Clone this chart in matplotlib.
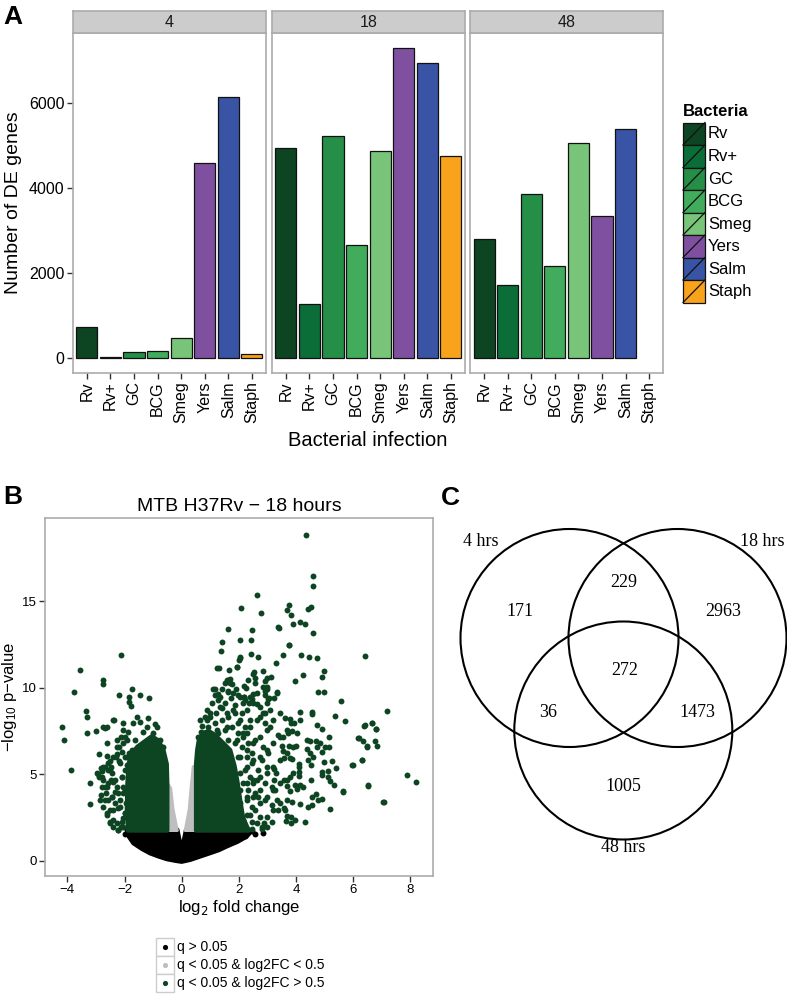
import matplotlib
matplotlib.use('Agg')
import matplotlib.pyplot as plt
from matplotlib.patches import Rectangle, Circle, Polygon
from matplotlib.lines import Line2D

plt.rcParams['font.family'] = ['Liberation Sans', 'DejaVu Sans']
plt.rcParams['axes.unicode_minus'] = True

# ---------------- data ----------------
bacteria = ['Rv', 'Rv+', 'GC', 'BCG', 'Smeg', 'Yers', 'Salm', 'Staph']
bact_colors = ['#0d4422', '#0b6d38', '#258e47', '#40ac5c', '#78c478',
               '#8050a0', '#3a54a5', '#f8a31b']
timepoints = ['4', '18', '48']
de_4h = [712, 10, 126, 145, 469, 4594, 6134, 87]
de_18h = [4931, 1259, 5220, 2641, 4875, 7289, 6938, 4751]
de_48h = [2789, 1704, 3860, 2149, 5048, 3345, 5377, None]
de_counts = [de_4h, de_18h, de_48h]
y_ticks_a = [0, 2000, 4000, 6000]

# volcano: dense regions (outlines) + scattered points (x, y)
black_region = [(-1.93, 1.8), (-1.85, 1.4), (-1.69, 1.02), (-1.4, 0.7), (-1.11, 0.44),
                (-0.8, 0.25), (-0.52, 0.1), (-0.2, 0.0), (0.0, -0.05), (0.3, 0.06),
                (0.64, 0.25), (1.0, 0.45), (1.3, 0.62), (1.57, 0.83), (1.95, 1.1),
                (2.27, 1.40), (2.38, 1.6), (2.35, 1.8), (0.15, 1.8), (0.0, 0.6),
                (-0.15, 1.8)]
black_points = [(2.83, 1.60), (2.55, 1.55), (2.45, 1.70), (-1.98, 1.55), (2.2, 1.45)]
grey_left_region = [(-0.52, 1.75), (-0.52, 4.2), (-0.46, 4.4), (-0.38, 4.2),
                    (-0.30, 3.0), (-0.15, 1.75)]
grey_right_region = [(0.12, 1.75), (0.50, 1.75), (0.50, 5.45), (0.40, 5.45),
                     (0.33, 4.3), (0.26, 3.0)]
green_left_region = [(-1.88, 1.75), (-1.92, 3.0), (-1.90, 4.5), (-1.86, 5.6),
                     (-1.75, 6.2), (-1.55, 6.6), (-1.3, 6.9), (-1.05, 7.2),
                     (-0.85, 7.0), (-0.65, 6.5), (-0.52, 5.6), (-0.50, 4.4),
                     (-0.50, 1.75)]
green_right_region = [(0.50, 1.75), (0.50, 5.6), (0.54, 6.4), (0.6, 7.0),
                      (0.75, 7.4), (0.95, 7.5), (1.15, 7.3), (1.4, 6.9),
                      (1.7, 6.4), (1.85, 5.5), (1.95, 4.6), (2.05, 3.5),
                      (2.15, 2.5), (2.35, 1.75)]
green_points_top = [
    (4.34, 18.84), (4.61, 16.45), (4.61, 15.90), (2.64, 15.36), (2.07, 14.63),
    (2.76, 14.34), (3.74, 14.76), (3.68, 14.46), (3.81, 14.20), (4.41, 14.55),
    (4.53, 14.65), (3.88, 13.69), (4.14, 13.80), (4.30, 13.67), (1.61, 13.38),
    (2.46, 13.36), (3.39, 13.44), (4.59, 13.13), (1.42, 12.61), (2.04, 12.73),
    (2.43, 12.75), (3.75, 12.46), (1.38, 12.13), (2.42, 11.94), (2.68, 11.78),
    (2.00, 11.59), (2.04, 11.75), (3.55, 11.86), (4.17, 11.86), (4.46, 11.76),
    (4.72, 11.72), (6.42, 11.82), (3.29, 11.44), (1.22, 11.13), (1.29, 11.13),
    (1.92, 11.19), (1.65, 11.00), (2.54, 10.92), (2.83, 10.96), (4.99, 10.96),
    (2.56, 10.57), (2.98, 10.54), (3.12, 10.61), (4.25, 10.73), (4.90, 10.63),
    (1.58, 10.44), (1.70, 10.50), (1.51, 10.25), (1.77, 10.20), (2.56, 10.30),
    (2.92, 10.38), (3.96, 10.38), (2.17, 10.09), (2.25, 9.98), (1.15, 9.94),
    (1.41, 9.92), (1.90, 9.90), (2.83, 10.05), (3.00, 9.90), (1.26, 9.65),
    (1.63, 9.83), (2.19, 9.46), (2.47, 9.32), (2.90, 9.56), (3.23, 9.42),
    (3.32, 9.71), (4.76, 9.73), (4.98, 9.77), (5.56, 9.23), (3.02, 9.32),
    (3.38, 13.51), (3.75, 12.46)]
green_points_right = [
    (7.18, 8.63), (5.70, 8.09), (5.37, 8.34), (6.41, 7.83), (6.65, 7.96), (6.78, 7.60),
    (6.19, 7.11), (6.33, 6.94), (6.48, 6.59), (6.76, 6.90), (6.82, 6.63), (6.30, 5.82),
    (5.95, 5.52), (7.89, 4.94), (8.21, 4.57), (6.51, 4.34), (7.07, 3.42), (5.63, 4.02),
    (5.20, 3.00), (4.91, 3.56), (4.70, 3.85), (4.55, 3.71), (4.76, 3.52), (4.42, 3.10),
    (4.55, 3.21), (4.30, 2.25), (3.81, 2.21), (3.65, 2.31), (3.70, 2.61), (4.13, 3.29),
    (3.86, 3.42), (3.59, 3.04), (3.79, 4.04), (4.02, 4.15), (4.14, 4.36), (4.51, 4.65),
    (4.92, 4.96), (5.11, 4.83), (5.34, 4.38), (5.20, 4.63), (4.90, 5.12), (5.13, 5.19),
    (5.38, 5.38), (5.26, 5.78), (4.97, 5.71), (4.53, 5.52), (4.42, 5.82), (4.60, 6.02),
    (4.49, 6.21), (4.90, 6.27), (5.15, 6.56), (5.02, 6.58), (4.72, 6.59), (4.37, 6.44),
    (4.40, 6.98), (4.49, 6.92), (4.71, 6.92), (4.85, 6.79), (5.16, 7.17), (4.91, 7.61),
    (4.74, 7.86), (4.55, 8.59), (4.55, 8.48), (4.15, 8.59), (4.14, 8.15), (3.94, 7.94),
    (3.78, 8.19), (3.63, 8.27), (3.85, 7.52), (3.73, 7.36), (3.56, 7.17), (3.36, 7.25),
    (3.51, 6.65), (3.75, 6.63), (4.01, 6.65), (3.53, 6.33), (3.59, 5.92), (3.80, 5.96),
    (3.87, 5.90), (4.10, 5.58), (4.12, 5.40), (4.10, 5.15), (4.10, 4.90), (3.79, 4.86),
    (3.57, 4.67), (3.68, 4.34), (3.98, 4.40), (4.25, 4.25), (3.23, 5.31), (3.31, 5.06),
    (3.22, 4.67), (3.15, 4.29), (3.26, 4.09), (3.32, 3.52), (3.15, 3.23), (3.38, 2.94),
    (3.17, 2.27), (2.98, 1.98), (2.80, 1.96), (2.87, 2.17), (6.37, 7.79), (6.66, 7.94),
    (6.79, 7.59), (6.47, 6.63), (6.18, 7.07), (6.29, 5.82), (5.98, 5.54), (5.65, 4.00),
    (6.52, 4.38), (7.05, 3.42)]
green_points_mid = [
    (2.90, 9.80), (3.05, 9.38), (3.33, 9.73), (2.48, 9.63), (2.62, 9.05), (2.35, 9.09),
    (2.18, 9.48), (1.72, 9.42), (1.51, 9.09), (1.40, 8.81), (1.19, 8.55), (0.99, 8.32),
    (0.87, 8.13), (0.70, 7.79), (0.67, 7.42), (0.58, 7.17), (2.91, 7.94), (3.09, 7.75),
    (2.74, 8.32), (2.56, 6.98), (2.86, 6.59), (3.03, 6.21), (2.80, 5.82), (2.68, 5.25),
    (2.97, 5.44), (2.62, 4.67), (2.91, 4.48), (2.68, 3.71), (2.91, 3.52), (2.56, 2.94),
    (2.74, 2.56), (2.45, 2.27), (2.33, 4.09), (2.45, 6.21), (2.27, 7.36), (1.98, 7.94),
    (2.10, 8.52), (1.11, 9.90), (1.16, 9.57), (1.34, 9.48), (1.63, 10.44), (1.69, 10.25),
    (1.80, 9.67), (1.92, 11.20), (2.04, 11.69), (2.33, 10.44), (2.50, 10.82), (2.97, 10.05),
    (1.34, 8.90), (1.57, 8.52), (1.80, 8.71), (2.04, 9.48), (2.21, 9.28), (2.39, 9.48),
    (2.62, 9.67), (2.74, 8.90), (2.91, 8.52), (3.09, 8.71), (0.64, 8.13), (0.81, 8.32),
    (0.99, 8.52), (0.87, 7.36), (1.22, 7.55), (1.57, 7.75), (0.93, 7.75), (1.16, 7.94),
    (1.40, 8.13), (1.63, 8.32), (1.86, 8.52), (1.28, 7.36), (1.51, 7.55), (1.75, 7.75),
    (1.98, 7.36), (2.21, 7.75), (2.39, 8.13), (1.63, 6.98), (1.86, 6.79), (2.10, 6.59),
    (2.33, 6.79), (2.15, 7.17), (1.10, 6.79), (1.34, 6.59), (1.63, 6.21), (1.98, 6.02),
    (2.27, 6.02), (2.45, 5.63), (2.21, 5.25), (2.39, 4.86), (2.15, 4.48), (2.27, 3.52),
    (2.45, 3.13), (2.27, 2.65), (2.10, 2.36), (2.56, 3.90), (2.74, 4.09), (2.50, 4.48),
    (0.87, 8.71), (1.05, 9.09), (1.28, 9.28), (1.86, 9.00), (1.98, 9.57), (1.63, 9.76),
    (2.04, 1.98), (2.27, 1.85), (2.45, 1.85), (2.80, 1.85), (2.15, 2.37), (2.39, 2.65),
    (2.62, 2.17), (2.97, 2.56), (3.20, 2.94), (3.44, 3.33), (3.67, 3.52), (3.84, 2.56),
    (3.96, 2.37), (3.61, 2.94), (2.04, 3.33), (2.27, 3.71), (2.50, 3.71), (2.74, 3.33),
    (2.97, 3.71), (3.20, 4.09), (3.44, 4.48), (3.67, 4.67), (3.90, 5.06), (2.04, 4.09),
    (2.27, 4.48), (2.50, 4.67), (2.74, 4.86), (2.97, 5.06), (3.20, 5.44), (3.44, 5.83),
    (3.67, 6.21), (3.90, 6.59), (4.02, 7.36), (2.04, 5.06), (2.27, 5.44), (2.50, 5.83),
    (2.74, 6.02), (2.97, 6.40), (3.20, 6.79), (3.44, 7.17), (3.67, 7.56), (3.84, 7.94),
    (2.04, 6.02), (2.27, 6.40), (2.50, 6.79), (2.74, 7.17), (2.97, 7.56), (3.20, 8.13),
    (3.44, 8.52), (1.92, 6.98), (2.15, 7.36), (2.39, 7.75), (2.62, 8.13), (2.86, 8.52),
    (2.97, 9.09), (2.04, 8.13), (2.27, 8.71), (2.50, 9.09), (2.15, 9.09)]
green_points_left = [
    (-4.17, 7.75), (-4.13, 6.96), (-3.88, 5.25), (-3.78, 9.75), (-3.57, 11.00),
    (-3.36, 8.63), (-3.30, 8.29), (-3.31, 7.36), (-3.00, 7.48), (-3.21, 4.48),
    (-2.90, 6.19), (-2.74, 10.42), (-2.74, 10.19), (-2.68, 7.65), (-2.62, 7.71),
    (-2.36, 8.13), (-2.18, 9.59), (-2.11, 11.90), (-1.84, 9.49), (-1.83, 9.20),
    (-1.76, 8.94), (-1.73, 9.90), (-1.46, 9.57), (-1.13, 9.42),
    (-2.89, 4.84), (-2.62, 6.06), (-2.52, 5.77), (-2.48, 5.44), (-2.25, 6.17),
    (-2.20, 5.78), (-2.27, 6.59), (-2.11, 7.17), (-2.79, 5.21), (-2.77, 4.86),
    (-2.92, 5.02), (-2.83, 3.81), (-2.62, 4.29), (-2.48, 4.67), (-2.27, 4.29),
    (-2.57, 3.52), (-2.51, 2.94), (-2.41, 2.36), (-2.24, 1.79), (-2.11, 1.98),
    (-2.04, 2.46), (-3.20, 3.27),
    (-2.97, 5.06), (-2.82, 5.34), (-2.74, 4.67), (-2.68, 4.29), (-2.65, 3.90),
    (-2.57, 5.25), (-2.45, 5.06), (-2.39, 4.57), (-2.33, 4.00), (-2.45, 3.71),
    (-2.33, 3.33), (-2.22, 3.04), (-2.16, 3.52), (-2.04, 3.90), (-2.06, 4.29),
    (-2.10, 4.86), (-1.98, 5.25), (-1.92, 5.54), (-1.98, 6.02), (-2.10, 6.31),
    (-2.18, 6.59), (-2.04, 6.79), (-1.90, 6.98), (-2.30, 6.02), (-2.41, 6.02),
    (-2.57, 5.63), (-2.68, 5.44), (-2.86, 3.52), (-2.74, 3.13), (-2.62, 2.65),
    (-2.51, 2.27), (-2.39, 1.98), (-2.22, 1.79), (-2.10, 2.27), (-1.98, 2.75),
    (-1.95, 3.33),
    (-2.04, 7.55), (-1.87, 7.46), (-1.69, 7.94), (-1.57, 8.32), (-1.46, 8.03),
    (-1.22, 7.75), (-0.93, 7.90), (-0.85, 7.75), (-1.17, 8.23), (-0.64, 6.59),
    (-0.76, 6.98), (-0.99, 7.36), (-1.34, 7.46), (-1.63, 6.98), (-1.75, 6.40),
    (-1.83, 6.21),
    (-2.74, 7.75), (-2.39, 8.13), (-2.04, 7.94), (-2.62, 6.79), (-2.27, 6.98),
    (-1.98, 7.17), (-2.74, 5.44), (-2.51, 5.25), (-2.16, 5.63), (-1.92, 6.02),
    (-2.80, 4.29), (-2.57, 4.48), (-2.33, 4.67), (-2.10, 4.86), (-2.68, 3.52),
    (-2.45, 3.71), (-2.22, 3.90), (-1.98, 4.09), (-2.62, 2.75), (-2.39, 2.94),
    (-2.16, 3.13), (-1.98, 2.75), (-2.27, 2.17), (-2.04, 1.98), (-2.51, 2.17)]
volcano_labels = ['q > 0.05', 'q < 0.05 & log2FC < 0.5', 'q < 0.05 & log2FC > 0.5']
volcano_colors = ['#000000', '#bebebe', '#0d4422']

# Venn counts
venn_sets = ['4 hrs', '18 hrs', '48 hrs']
venn_only4, venn_only18, venn_only48 = 171, 2963, 1005
venn_4_18, venn_4_48, venn_18_48, venn_all = 229, 36, 1473, 272

# ---------------- figure ----------------
W, H = 787, 998
fig = plt.figure(figsize=(W / 100, H / 100), dpi=100)


def ax_px(x0, y0, x1, y1, **kw):
    return fig.add_axes([x0 / W, 1 - y1 / H, (x1 - x0) / W, (y1 - y0) / H], **kw)


BORDER = '#ababab'

# ----- Panel A -----
facet_x = [(72.7, 266.0), (271.7, 465.0), (470.0, 663.3)]
for k, (x0, x1) in enumerate(facet_x):
    ax = ax_px(x0, 32.7, x1, 373)
    vals = de_counts[k]
    for i, v in enumerate(vals):
        if v is None:
            continue
        ax.bar(i, v, width=0.9, color=bact_colors[i], edgecolor='#111111', linewidth=0.9)
    ax.set_xlim(-0.6, len(bacteria) - 0.4)
    ax.set_ylim(-364, 7653)
    ax.set_xticks(range(len(bacteria)))
    ax.set_xticklabels(bacteria, rotation=90, fontsize=11.5)
    ax.set_yticks(y_ticks_a)
    if k == 0:
        ax.set_yticklabels([str(t) for t in y_ticks_a], fontsize=11.5)
    else:
        ax.tick_params(axis='y', left=False, labelleft=False)
    ax.tick_params(axis='both', color='#333333', length=4, width=1, pad=2)
    for s in ax.spines.values():
        s.set_color(BORDER)
        s.set_linewidth(1.2)
    st = ax_px(x0, 11, x1, 32.7)
    st.set_facecolor('#cccccc')
    st.set_xticks([]); st.set_yticks([])
    for s in st.spines.values():
        s.set_color(BORDER)
        s.set_linewidth(1.2)
    st.text(0.5, 0.45, timepoints[k], ha='center', va='center', fontsize=11.5,
            transform=st.transAxes, color='#1a1a1a')

fig.text(14 / W, 1 - 203 / H, 'Number of DE genes', rotation=90, ha='center',
         va='center', fontsize=14)
fig.text(368 / W, 1 - 440 / H, 'Bacterial infection', ha='center', va='center',
         fontsize=14.5)

lax = ax_px(670, 95, 787, 320)
lax.set_xlim(670, 787); lax.set_ylim(320, 95); lax.axis('off')
lax.text(683, 111, 'Bacteria', fontsize=12, fontweight='bold', va='center', ha='left')
for i, (b, c) in enumerate(zip(bacteria, bact_colors)):
    y0 = 122.5 + i * 22.5
    lax.add_patch(Rectangle((683, y0), 22, 22.5, facecolor=c, edgecolor='#111111',
                            linewidth=0.9))
    lax.add_line(Line2D([683, 705], [y0 + 22.5, y0], color='#111111', linewidth=0.9))
    lax.text(708, y0 + 11.5, b, fontsize=12, va='center', ha='left')

# ----- Panel B -----
axb = ax_px(45.3, 518.3, 433.3, 876)
axb.add_patch(Polygon(black_region, closed=True, facecolor=volcano_colors[0],
                      edgecolor=volcano_colors[0], linewidth=3, joinstyle='round'))
axb.scatter([p[0] for p in black_points], [p[1] for p in black_points], s=18,
            color=volcano_colors[0], linewidths=0)
for reg in (grey_left_region, grey_right_region):
    axb.add_patch(Polygon(reg, closed=True, facecolor=volcano_colors[1],
                          edgecolor=volcano_colors[1], linewidth=2.0, joinstyle='round'))
for reg in (green_left_region, green_right_region):
    axb.add_patch(Polygon(reg, closed=True, facecolor=volcano_colors[2],
                          edgecolor=volcano_colors[2], linewidth=3, joinstyle='round'))
for pts in (green_points_top, green_points_right, green_points_mid, green_points_left):
    axb.scatter([p[0] for p in pts], [p[1] for p in pts], s=18,
                color=volcano_colors[2], linewidths=0)
axb.set_xlim(-4.77, 8.80)
axb.set_ylim(-0.87, 19.78)
axb.set_xticks([-4, -2, 0, 2, 4, 6, 8])
axb.set_yticks([0, 5, 10, 15])
axb.tick_params(axis='both', labelsize=9.5, color='#333333', length=4, width=1, pad=2)
for s in axb.spines.values():
    s.set_color(BORDER)
    s.set_linewidth(1.2)
axb.set_title('MTB H37Rv \u2212 18 hours', fontsize=14, pad=5)
axb.set_xlabel(r'log$_2$ fold change', fontsize=12, labelpad=1)
axb.set_ylabel('$\\mathregular{-log_{10}}$ p\u2212value', fontsize=12, labelpad=2)

lb = ax_px(150, 930, 400, 998)
lb.set_xlim(150, 400); lb.set_ylim(998, 930); lb.axis('off')
for i, (lab, c) in enumerate(zip(volcano_labels, volcano_colors)):
    y0 = 938 + i * 18
    lb.add_patch(Rectangle((156, y0), 18, 18, facecolor='white', edgecolor='#cccccc',
                           linewidth=1))
    lb.scatter([165], [y0 + 9], s=14, color=c, linewidths=0)
    lb.text(177, y0 + 9.5, lab, fontsize=10, va='center', ha='left')

# ----- Panel C (Venn) -----
axc = ax_px(440, 480, 787, 880)
axc.set_xlim(440, 787); axc.set_ylim(880, 480); axc.axis('off')
circles = [(569.5, 638.0), (677.5, 638.0), (623.3, 730.5)]
for cx, cy in circles:
    axc.add_patch(Circle((cx, cy), 109, fill=False, edgecolor='black', linewidth=1.5,
                         clip_on=False))
serif = ['Liberation Serif', 'DejaVu Serif']
vkw = dict(fontsize=13, family=serif, ha='center', va='center')
axc.text(481, 542, venn_sets[0], **vkw)
axc.text(762, 542, venn_sets[1], **vkw)
axc.text(623, 848, venn_sets[2], **vkw)
axc.text(520, 612, str(venn_only4), **vkw)
axc.text(723, 612, str(venn_only18), **vkw)
axc.text(623, 787, str(venn_only48), **vkw)
axc.text(624, 583, str(venn_4_18), **vkw)
axc.text(548, 713, str(venn_4_48), **vkw)
axc.text(697, 713, str(venn_18_48), **vkw)
axc.text(625, 671, str(venn_all), **vkw)

fig.text(3 / W, 1 - 17 / H, 'A', fontsize=19, fontweight='bold', va='center')
fig.text(3 / W, 1 - 497 / H, 'B', fontsize=19, fontweight='bold', va='center')
fig.text(441 / W, 1 - 498 / H, 'C', fontsize=19, fontweight='bold', va='center')

fig.savefig('out.png', dpi=100)
